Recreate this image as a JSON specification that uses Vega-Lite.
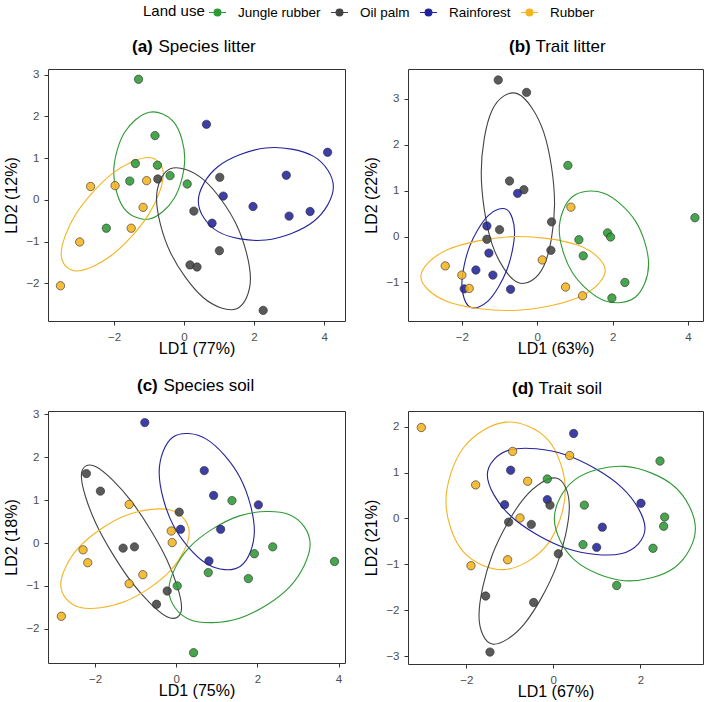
{
  "$schema": "https://vega.github.io/schema/vega-lite/v6.json",
  "padding": {"left": 3, "top": 3, "right": 3, "bottom": 3},
  "datasets": {
    "pts": [
      {"p":"a","use":"Jungle rubber","x":-1.30,"y":2.89},
      {"p":"a","use":"Jungle rubber","x":-0.83,"y":1.54},
      {"p":"a","use":"Jungle rubber","x":-1.39,"y":0.87},
      {"p":"a","use":"Jungle rubber","x":-0.76,"y":0.83},
      {"p":"a","use":"Jungle rubber","x":-1.55,"y":0.45},
      {"p":"a","use":"Jungle rubber","x":-0.40,"y":0.58},
      {"p":"a","use":"Jungle rubber","x":0.09,"y":0.38},
      {"p":"a","use":"Jungle rubber","x":-2.22,"y":-0.68},
      {"p":"a","use":"Oil palm","x":-0.75,"y":0.50},
      {"p":"a","use":"Oil palm","x":1.02,"y":0.54},
      {"p":"a","use":"Oil palm","x":0.28,"y":-0.27},
      {"p":"a","use":"Oil palm","x":1.01,"y":-1.22},
      {"p":"a","use":"Oil palm","x":0.17,"y":-1.56},
      {"p":"a","use":"Oil palm","x":0.37,"y":-1.61},
      {"p":"a","use":"Oil palm","x":2.26,"y":-2.65},
      {"p":"a","use":"Rainforest","x":0.64,"y":1.81},
      {"p":"a","use":"Rainforest","x":4.10,"y":1.14},
      {"p":"a","use":"Rainforest","x":2.92,"y":0.59},
      {"p":"a","use":"Rainforest","x":1.12,"y":0.09},
      {"p":"a","use":"Rainforest","x":1.97,"y":-0.16},
      {"p":"a","use":"Rainforest","x":3.00,"y":-0.39},
      {"p":"a","use":"Rainforest","x":3.60,"y":-0.28},
      {"p":"a","use":"Rainforest","x":0.80,"y":-0.56},
      {"p":"a","use":"Rubber","x":-2.67,"y":0.32},
      {"p":"a","use":"Rubber","x":-1.97,"y":0.34},
      {"p":"a","use":"Rubber","x":-1.07,"y":0.46},
      {"p":"a","use":"Rubber","x":-1.17,"y":-0.18},
      {"p":"a","use":"Rubber","x":-1.51,"y":-0.68},
      {"p":"a","use":"Rubber","x":-2.98,"y":-1.01},
      {"p":"a","use":"Rubber","x":-3.53,"y":-2.06},

      {"p":"b","use":"Oil palm","x":-1.035,"y":3.41},
      {"p":"b","use":"Oil palm","x":-0.283,"y":3.14},
      {"p":"b","use":"Oil palm","x":-0.735,"y":1.21},
      {"p":"b","use":"Oil palm","x":-0.354,"y":1.02},
      {"p":"b","use":"Oil palm","x":0.381,"y":0.32},
      {"p":"b","use":"Oil palm","x":-1.00,"y":0.15},
      {"p":"b","use":"Oil palm","x":-1.336,"y":-0.06},
      {"p":"b","use":"Oil palm","x":0.363,"y":-0.30},
      {"p":"b","use":"Rainforest","x":-0.522,"y":0.94},
      {"p":"b","use":"Rainforest","x":-1.336,"y":0.23},
      {"p":"b","use":"Rainforest","x":-1.283,"y":-0.36},
      {"p":"b","use":"Rainforest","x":-1.628,"y":-0.73},
      {"p":"b","use":"Rainforest","x":-1.177,"y":-0.84},
      {"p":"b","use":"Rainforest","x":-1.938,"y":-1.14},
      {"p":"b","use":"Rainforest","x":-0.708,"y":-1.15},
      {"p":"b","use":"Rubber","x":0.894,"y":0.64},
      {"p":"b","use":"Rubber","x":-2.442,"y":-0.64},
      {"p":"b","use":"Rubber","x":-2.0,"y":-0.84},
      {"p":"b","use":"Rubber","x":-1.805,"y":-1.13},
      {"p":"b","use":"Rubber","x":0.133,"y":-0.51},
      {"p":"b","use":"Rubber","x":0.752,"y":-1.10},
      {"p":"b","use":"Rubber","x":1.204,"y":-1.29},
      {"p":"b","use":"Jungle rubber","x":0.814,"y":1.55},
      {"p":"b","use":"Jungle rubber","x":4.186,"y":0.41},
      {"p":"b","use":"Jungle rubber","x":1.867,"y":0.08},
      {"p":"b","use":"Jungle rubber","x":1.947,"y":-0.01},
      {"p":"b","use":"Jungle rubber","x":1.106,"y":-0.07},
      {"p":"b","use":"Jungle rubber","x":1.221,"y":-0.42},
      {"p":"b","use":"Jungle rubber","x":2.327,"y":-1.00},
      {"p":"b","use":"Jungle rubber","x":1.982,"y":-1.34},

      {"p":"c","use":"Rainforest","x":-0.774,"y":2.81},
      {"p":"c","use":"Rainforest","x":0.691,"y":1.69},
      {"p":"c","use":"Rainforest","x":0.922,"y":1.11},
      {"p":"c","use":"Rainforest","x":2.025,"y":0.89},
      {"p":"c","use":"Rainforest","x":0.107,"y":0.32},
      {"p":"c","use":"Rainforest","x":1.095,"y":0.32},
      {"p":"c","use":"Rainforest","x":0.807,"y":-0.42},
      {"p":"c","use":"Jungle rubber","x":1.374,"y":0.99},
      {"p":"c","use":"Jungle rubber","x":2.379,"y":-0.09},
      {"p":"c","use":"Jungle rubber","x":1.926,"y":-0.25},
      {"p":"c","use":"Jungle rubber","x":3.901,"y":-0.43},
      {"p":"c","use":"Jungle rubber","x":0.790,"y":-0.69},
      {"p":"c","use":"Jungle rubber","x":1.778,"y":-0.83},
      {"p":"c","use":"Jungle rubber","x":0.025,"y":-1.00},
      {"p":"c","use":"Jungle rubber","x":0.428,"y":-2.56},
      {"p":"c","use":"Oil palm","x":-2.214,"y":1.62},
      {"p":"c","use":"Oil palm","x":-1.868,"y":1.21},
      {"p":"c","use":"Oil palm","x":0.074,"y":0.72},
      {"p":"c","use":"Oil palm","x":-1.309,"y":-0.12},
      {"p":"c","use":"Oil palm","x":-1.029,"y":-0.09},
      {"p":"c","use":"Oil palm","x":-0.222,"y":-1.12},
      {"p":"c","use":"Oil palm","x":-0.486,"y":-1.43},
      {"p":"c","use":"Rubber","x":-1.160,"y":0.90},
      {"p":"c","use":"Rubber","x":-0.123,"y":0.28},
      {"p":"c","use":"Rubber","x":-0.099,"y":0.01},
      {"p":"c","use":"Rubber","x":-2.296,"y":-0.16},
      {"p":"c","use":"Rubber","x":-2.181,"y":-0.46},
      {"p":"c","use":"Rubber","x":-0.823,"y":-0.74},
      {"p":"c","use":"Rubber","x":-1.160,"y":-0.95},
      {"p":"c","use":"Rubber","x":-2.831,"y":-1.71},

      {"p":"d","use":"Rubber","x":-3.034,"y":1.98},
      {"p":"d","use":"Rubber","x":-0.935,"y":1.46},
      {"p":"d","use":"Rubber","x":0.375,"y":1.37},
      {"p":"d","use":"Rubber","x":-1.785,"y":0.73},
      {"p":"d","use":"Rubber","x":-0.590,"y":0.81},
      {"p":"d","use":"Rubber","x":-0.766,"y":0.01},
      {"p":"d","use":"Rubber","x":-1.050,"y":-0.90},
      {"p":"d","use":"Rubber","x":-1.893,"y":-1.03},
      {"p":"d","use":"Rainforest","x":0.467,"y":1.85},
      {"p":"d","use":"Rainforest","x":-0.981,"y":1.05},
      {"p":"d","use":"Rainforest","x":-1.119,"y":0.30},
      {"p":"d","use":"Rainforest","x":-0.138,"y":0.41},
      {"p":"d","use":"Rainforest","x":2.015,"y":0.33},
      {"p":"d","use":"Rainforest","x":1.126,"y":-0.19},
      {"p":"d","use":"Rainforest","x":0.996,"y":-0.63},
      {"p":"d","use":"Jungle rubber","x":2.452,"y":1.25},
      {"p":"d","use":"Jungle rubber","x":-0.138,"y":0.86},
      {"p":"d","use":"Jungle rubber","x":0.713,"y":0.29},
      {"p":"d","use":"Jungle rubber","x":2.559,"y":0.03},
      {"p":"d","use":"Jungle rubber","x":2.536,"y":-0.17},
      {"p":"d","use":"Jungle rubber","x":0.682,"y":-0.57},
      {"p":"d","use":"Jungle rubber","x":2.291,"y":-0.65},
      {"p":"d","use":"Jungle rubber","x":1.456,"y":-1.46},
      {"p":"d","use":"Oil palm","x":-0.077,"y":0.29},
      {"p":"d","use":"Oil palm","x":-1.027,"y":-0.08},
      {"p":"d","use":"Oil palm","x":-0.506,"y":-0.13},
      {"p":"d","use":"Oil palm","x":0.115,"y":-0.77},
      {"p":"d","use":"Oil palm","x":-1.556,"y":-1.69},
      {"p":"d","use":"Oil palm","x":-0.452,"y":-1.83},
      {"p":"d","use":"Oil palm","x":-1.456,"y":-2.91}
    ],
    "ell": [
      {"p":"a","use":"Jungle rubber","i":0,"x":0.02,"y":0.99},
      {"p":"a","use":"Jungle rubber","i":1,"x":-0.28,"y":1.85},
      {"p":"a","use":"Jungle rubber","i":2,"x":-0.995,"y":2.10},
      {"p":"a","use":"Jungle rubber","i":3,"x":-1.71,"y":1.60},
      {"p":"a","use":"Jungle rubber","i":4,"x":-2.01,"y":0.65},
      {"p":"a","use":"Jungle rubber","i":5,"x":-1.71,"y":-0.21},
      {"p":"a","use":"Jungle rubber","i":6,"x":-0.995,"y":-0.46},
      {"p":"a","use":"Jungle rubber","i":7,"x":-0.28,"y":0.04},
      {"p":"a","use":"Rubber","i":0,"x":-0.59,"y":0.606},
      {"p":"a","use":"Rubber","i":1,"x":-1.02,"y":1.016},
      {"p":"a","use":"Rubber","i":2,"x":-2.05,"y":0.629},
      {"p":"a","use":"Rubber","i":3,"x":-3.08,"y":-0.328},
      {"p":"a","use":"Rubber","i":4,"x":-3.51,"y":-1.294},
      {"p":"a","use":"Rubber","i":5,"x":-3.08,"y":-1.704},
      {"p":"a","use":"Rubber","i":6,"x":-2.05,"y":-1.317},
      {"p":"a","use":"Rubber","i":7,"x":-1.02,"y":-0.36},
      {"p":"a","use":"Oil palm","i":0,"x":1.896,"y":-1.888},
      {"p":"a","use":"Oil palm","i":1,"x":1.503,"y":-0.608},
      {"p":"a","use":"Oil palm","i":2,"x":0.555,"y":0.483},
      {"p":"a","use":"Oil palm","i":3,"x":-0.393,"y":0.744},
      {"p":"a","use":"Oil palm","i":4,"x":-0.786,"y":0.024},
      {"p":"a","use":"Oil palm","i":5,"x":-0.393,"y":-1.256},
      {"p":"a","use":"Oil palm","i":6,"x":0.555,"y":-2.347},
      {"p":"a","use":"Oil palm","i":7,"x":1.503,"y":-2.608},
      {"p":"a","use":"Rainforest","i":0,"x":4.265,"y":0.312},
      {"p":"a","use":"Rainforest","i":1,"x":3.70,"y":1.042},
      {"p":"a","use":"Rainforest","i":2,"x":2.336,"y":1.243},
      {"p":"a","use":"Rainforest","i":3,"x":0.972,"y":0.798},
      {"p":"a","use":"Rainforest","i":4,"x":0.407,"y":-0.032},
      {"p":"a","use":"Rainforest","i":5,"x":0.972,"y":-0.762},
      {"p":"a","use":"Rainforest","i":6,"x":2.336,"y":-0.963},
      {"p":"a","use":"Rainforest","i":7,"x":3.70,"y":-0.518},

      {"p":"b","use":"Oil palm","i":0,"x":0.46,"y":0.712},
      {"p":"b","use":"Oil palm","i":1,"x":0.175,"y":2.265},
      {"p":"b","use":"Oil palm","i":2,"x":-0.513,"y":3.108},
      {"p":"b","use":"Oil palm","i":3,"x":-1.201,"y":2.747},
      {"p":"b","use":"Oil palm","i":4,"x":-1.486,"y":1.394},
      {"p":"b","use":"Oil palm","i":5,"x":-1.201,"y":-0.159},
      {"p":"b","use":"Oil palm","i":6,"x":-0.513,"y":-1.002},
      {"p":"b","use":"Oil palm","i":7,"x":0.175,"y":-0.641},
      {"p":"b","use":"Rainforest","i":0,"x":-0.602,"y":0.094},
      {"p":"b","use":"Rainforest","i":1,"x":-0.807,"y":0.586},
      {"p":"b","use":"Rainforest","i":2,"x":-1.301,"y":0.458},
      {"p":"b","use":"Rainforest","i":3,"x":-1.795,"y":-0.214},
      {"p":"b","use":"Rainforest","i":4,"x":-2.0,"y":-1.038},
      {"p":"b","use":"Rainforest","i":5,"x":-1.795,"y":-1.53},
      {"p":"b","use":"Rainforest","i":6,"x":-1.301,"y":-1.402},
      {"p":"b","use":"Rainforest","i":7,"x":-0.807,"y":-0.73},
      {"p":"b","use":"Rubber","i":0,"x":1.805,"y":-0.741},
      {"p":"b","use":"Rubber","i":1,"x":1.088,"y":-0.192},
      {"p":"b","use":"Rubber","i":2,"x":-0.642,"y":-0.002},
      {"p":"b","use":"Rubber","i":3,"x":-2.372,"y":-0.284},
      {"p":"b","use":"Rubber","i":4,"x":-3.089,"y":-0.871},
      {"p":"b","use":"Rubber","i":5,"x":-2.372,"y":-1.42},
      {"p":"b","use":"Rubber","i":6,"x":-0.642,"y":-1.61},
      {"p":"b","use":"Rubber","i":7,"x":1.088,"y":-1.328},
      {"p":"b","use":"Jungle rubber","i":0,"x":2.956,"y":-0.601},
      {"p":"b","use":"Jungle rubber","i":1,"x":2.608,"y":0.335},
      {"p":"b","use":"Jungle rubber","i":2,"x":1.770,"y":0.943},
      {"p":"b","use":"Jungle rubber","i":3,"x":0.932,"y":0.867},
      {"p":"b","use":"Jungle rubber","i":4,"x":0.584,"y":0.151},
      {"p":"b","use":"Jungle rubber","i":5,"x":0.932,"y":-0.785},
      {"p":"b","use":"Jungle rubber","i":6,"x":1.770,"y":-1.393},
      {"p":"b","use":"Jungle rubber","i":7,"x":2.608,"y":-1.317},

      {"p":"c","use":"Oil palm","i":0,"x":0.132,"y":-1.503},
      {"p":"c","use":"Oil palm","i":1,"x":-0.23,"y":-0.389},
      {"p":"c","use":"Oil palm","i":2,"x":-1.103,"y":0.971},
      {"p":"c","use":"Oil palm","i":3,"x":-1.976,"y":1.781},
      {"p":"c","use":"Oil palm","i":4,"x":-2.338,"y":1.565},
      {"p":"c","use":"Oil palm","i":5,"x":-1.976,"y":0.451},
      {"p":"c","use":"Oil palm","i":6,"x":-1.103,"y":-0.909},
      {"p":"c","use":"Oil palm","i":7,"x":-0.23,"y":-1.719},
      {"p":"c","use":"Rubber","i":0,"x":0.321,"y":0.238},
      {"p":"c","use":"Rubber","i":1,"x":-0.143,"y":0.768},
      {"p":"c","use":"Rubber","i":2,"x":-1.263,"y":0.634},
      {"p":"c","use":"Rubber","i":3,"x":-2.383,"y":-0.086},
      {"p":"c","use":"Rubber","i":4,"x":-2.847,"y":-0.97},
      {"p":"c","use":"Rubber","i":5,"x":-2.383,"y":-1.5},
      {"p":"c","use":"Rubber","i":6,"x":-1.263,"y":-1.366},
      {"p":"c","use":"Rubber","i":7,"x":-0.143,"y":-0.646},
      {"p":"c","use":"Rainforest","i":0,"x":1.926,"y":0.285},
      {"p":"c","use":"Rainforest","i":1,"x":1.582,"y":1.512},
      {"p":"c","use":"Rainforest","i":2,"x":0.753,"y":2.418},
      {"p":"c","use":"Rainforest","i":3,"x":-0.076,"y":2.474},
      {"p":"c","use":"Rainforest","i":4,"x":-0.42,"y":1.647},
      {"p":"c","use":"Rainforest","i":5,"x":-0.076,"y":0.42},
      {"p":"c","use":"Rainforest","i":6,"x":0.753,"y":-0.486},
      {"p":"c","use":"Rainforest","i":7,"x":1.582,"y":-0.542},
      {"p":"c","use":"Jungle rubber","i":0,"x":3.301,"y":-0.026},
      {"p":"c","use":"Jungle rubber","i":1,"x":2.791,"y":0.661},
      {"p":"c","use":"Jungle rubber","i":2,"x":1.560,"y":0.633},
      {"p":"c","use":"Jungle rubber","i":3,"x":0.329,"y":-0.095},
      {"p":"c","use":"Jungle rubber","i":4,"x":-0.181,"y":-1.096},
      {"p":"c","use":"Jungle rubber","i":5,"x":0.329,"y":-1.783},
      {"p":"c","use":"Jungle rubber","i":6,"x":1.560,"y":-1.755},
      {"p":"c","use":"Jungle rubber","i":7,"x":2.791,"y":-1.027},

      {"p":"d","use":"Rubber","i":0,"x":0.276,"y":0.618},
      {"p":"d","use":"Rubber","i":1,"x":-0.126,"y":1.715},
      {"p":"d","use":"Rubber","i":2,"x":-1.096,"y":2.097},
      {"p":"d","use":"Rubber","i":3,"x":-2.066,"y":1.539},
      {"p":"d","use":"Rubber","i":4,"x":-2.468,"y":0.368},
      {"p":"d","use":"Rubber","i":5,"x":-2.066,"y":-0.729},
      {"p":"d","use":"Rubber","i":6,"x":-1.096,"y":-1.111},
      {"p":"d","use":"Rubber","i":7,"x":-0.126,"y":-0.553},
      {"p":"d","use":"Rainforest","i":0,"x":2.107,"y":-0.215},
      {"p":"d","use":"Rainforest","i":1,"x":1.576,"y":0.673},
      {"p":"d","use":"Rainforest","i":2,"x":0.295,"y":1.381},
      {"p":"d","use":"Rainforest","i":3,"x":-0.986,"y":1.495},
      {"p":"d","use":"Rainforest","i":4,"x":-1.517,"y":0.947},
      {"p":"d","use":"Rainforest","i":5,"x":-0.986,"y":0.059},
      {"p":"d","use":"Rainforest","i":6,"x":0.295,"y":-0.649},
      {"p":"d","use":"Rainforest","i":7,"x":1.576,"y":-0.763},
      {"p":"d","use":"Jungle rubber","i":0,"x":3.265,"y":-0.221},
      {"p":"d","use":"Jungle rubber","i":1,"x":2.79,"y":0.691},
      {"p":"d","use":"Jungle rubber","i":2,"x":1.644,"y":1.133},
      {"p":"d","use":"Jungle rubber","i":3,"x":0.498,"y":0.845},
      {"p":"d","use":"Jungle rubber","i":4,"x":0.023,"y":-0.003},
      {"p":"d","use":"Jungle rubber","i":5,"x":0.498,"y":-0.915},
      {"p":"d","use":"Jungle rubber","i":6,"x":1.644,"y":-1.357},
      {"p":"d","use":"Jungle rubber","i":7,"x":2.79,"y":-1.069},
      {"p":"d","use":"Oil palm","i":0,"x":0.368,"y":0.256},
      {"p":"d","use":"Oil palm","i":1,"x":0.064,"y":0.879},
      {"p":"d","use":"Oil palm","i":2,"x":-0.670,"y":0.444},
      {"p":"d","use":"Oil palm","i":3,"x":-1.404,"y":-0.795},
      {"p":"d","use":"Oil palm","i":4,"x":-1.708,"y":-2.112},
      {"p":"d","use":"Oil palm","i":5,"x":-1.404,"y":-2.735},
      {"p":"d","use":"Oil palm","i":6,"x":-0.670,"y":-2.3},
      {"p":"d","use":"Oil palm","i":7,"x":0.064,"y":-1.061}
    ]
  },
  "columns": 2,
  "spacing": {"column": 17, "row": 19},
  "concat": [
    {
      "width": 297, "height": 252,
      "title": {"text": "(a)", "subtitle": "\u200b\u00a0\u00a0\u00a0\u00a0\u00a0\u2006Species litter", "dx": 84},
      "layer": [
        {"data": {"name": "ell"}, "transform": [{"filter": "datum.p == 'a'"}],
         "mark": {"type": "line", "interpolate": "cardinal-closed", "strokeWidth": 1.1},
         "encoding": {
           "x": {"field": "x", "type": "quantitative", "scale": {"domain": [-3.886, 4.597], "nice": false, "zero": false}, "axis": {"values": [-2, 0, 2, 4], "title": "LD1 (77%)"}},
           "y": {"field": "y", "type": "quantitative", "scale": {"domain": [-2.904, 3.136], "nice": false, "zero": false}, "axis": {"values": [-2, -1, 0, 1, 2, 3], "title": "LD2 (12%)"}},
           "color": {"field": "use", "type": "nominal", "title": "Land use", "scale": {"domain": ["Jungle rubber", "Oil palm", "Rainforest", "Rubber"], "range": ["#2e9a34", "#434343", "#23239b", "#f4b41f"]}},
           "order": {"field": "i", "type": "quantitative"}
         }},
        {"data": {"name": "pts"}, "transform": [{"filter": "datum.p == 'a'"}],
         "mark": {"type": "point", "filled": true, "size": 70, "stroke": "#2a2a2a", "strokeWidth": 0.6, "fillOpacity": 0.88, "opacity": 1},
         "encoding": {
           "x": {"field": "x", "type": "quantitative"},
           "y": {"field": "y", "type": "quantitative"},
           "color": {"field": "use", "type": "nominal", "title": "Land use", "legend": {"symbolType": "M-1,0L1,0M0.4,0A0.4,0.4,0,1,1,-0.4,0A0.4,0.4,0,1,1,0.4,0Z"}}
         }}
      ]
    },
    {
      "width": 295, "height": 252,
      "title": {"text": "(b)", "subtitle": "\u200b\u00a0\u00a0\u00a0\u00a0\u00a0\u2006Trait litter", "dx": 101},
      "layer": [
        {"data": {"name": "ell"}, "transform": [{"filter": "datum.p == 'b'"}],
         "mark": {"type": "line", "interpolate": "cardinal-closed", "strokeWidth": 1.1},
         "encoding": {
           "x": {"field": "x", "type": "quantitative", "scale": {"domain": [-3.43, 4.40], "nice": false, "zero": false}, "axis": {"values": [-2, 0, 2, 4], "title": "LD1 (63%)"}},
           "y": {"field": "y", "type": "quantitative", "scale": {"domain": [-1.84, 3.65], "nice": false, "zero": false}, "axis": {"values": [-1, 0, 1, 2, 3], "title": "LD2 (22%)"}},
           "color": {"field": "use", "type": "nominal", "title": "Land use"},
           "order": {"field": "i", "type": "quantitative"}
         }},
        {"data": {"name": "pts"}, "transform": [{"filter": "datum.p == 'b'"}],
         "mark": {"type": "point", "filled": true, "size": 70, "stroke": "#2a2a2a", "strokeWidth": 0.6, "fillOpacity": 0.88, "opacity": 1},
         "encoding": {
           "x": {"field": "x", "type": "quantitative"},
           "y": {"field": "y", "type": "quantitative"},
           "color": {"field": "use", "type": "nominal", "title": "Land use"}
         }}
      ]
    },
    {
      "width": 297, "height": 252,
      "title": {"text": "(c)", "subtitle": "\u200b\u00a0\u00a0\u00a0\u00a0\u00a0\u2006Species soil", "dx": 89},
      "layer": [
        {"data": {"name": "ell"}, "transform": [{"filter": "datum.p == 'c'"}],
         "mark": {"type": "line", "interpolate": "cardinal-closed", "strokeWidth": 1.1},
         "encoding": {
           "x": {"field": "x", "type": "quantitative", "scale": {"domain": [-3.16, 4.16], "nice": false, "zero": false}, "axis": {"values": [-2, 0, 2, 4], "title": "LD1 (75%)"}},
           "y": {"field": "y", "type": "quantitative", "scale": {"domain": [-2.80, 3.08], "nice": false, "zero": false}, "axis": {"values": [-2, -1, 0, 1, 2, 3], "title": "LD2 (18%)"}},
           "color": {"field": "use", "type": "nominal", "title": "Land use"},
           "order": {"field": "i", "type": "quantitative"}
         }},
        {"data": {"name": "pts"}, "transform": [{"filter": "datum.p == 'c'"}],
         "mark": {"type": "point", "filled": true, "size": 70, "stroke": "#2a2a2a", "strokeWidth": 0.6, "fillOpacity": 0.88, "opacity": 1},
         "encoding": {
           "x": {"field": "x", "type": "quantitative"},
           "y": {"field": "y", "type": "quantitative"},
           "color": {"field": "use", "type": "nominal", "title": "Land use"}
         }}
      ]
    },
    {
      "width": 295, "height": 253,
      "title": {"text": "(d)", "subtitle": "\u200b\u00a0\u00a0\u00a0\u00a0\u00a0\u2006Trait soil", "dx": 104},
      "layer": [
        {"data": {"name": "ell"}, "transform": [{"filter": "datum.p == 'd'"}],
         "mark": {"type": "line", "interpolate": "cardinal-closed", "strokeWidth": 1.1},
         "encoding": {
           "x": {"field": "x", "type": "quantitative", "scale": {"domain": [-3.34, 3.44], "nice": false, "zero": false}, "axis": {"values": [-2, 0, 2], "title": "LD1 (67%)"}},
           "y": {"field": "y", "type": "quantitative", "scale": {"domain": [-3.17, 2.34], "nice": false, "zero": false}, "axis": {"values": [-3, -2, -1, 0, 1, 2], "title": "LD2 (21%)"}},
           "color": {"field": "use", "type": "nominal", "title": "Land use"},
           "order": {"field": "i", "type": "quantitative"}
         }},
        {"data": {"name": "pts"}, "transform": [{"filter": "datum.p == 'd'"}],
         "mark": {"type": "point", "filled": true, "size": 70, "stroke": "#2a2a2a", "strokeWidth": 0.6, "fillOpacity": 0.88, "opacity": 1},
         "encoding": {
           "x": {"field": "x", "type": "quantitative"},
           "y": {"field": "y", "type": "quantitative"},
           "color": {"field": "use", "type": "nominal", "title": "Land use"}
         }}
      ]
    }
  ],
  "resolve": {"scale": {"x": "independent", "y": "independent", "color": "shared"}, "legend": {"color": "shared"}},
  "config": {
    "font": "Liberation Sans",
    "background": "white",
    "view": {"stroke": "#333333", "strokeWidth": 1},
    "axis": {"grid": false, "domain": false, "tickColor": "#333333", "tickSize": 4, "tickWidth": 1,
             "labelColor": "#4d4d4d", "labelFontSize": 11.5, "labelPadding": 6,
             "titleFontSize": 16, "titleFontWeight": "normal", "titleColor": "black", "titlePadding": 3},
    "axisX": {"titlePadding": -2},
    "axisY": {"labelPadding": 5, "titlePadding": 6},
    "title": {"anchor": "start", "frame": "group", "fontSize": 17, "fontWeight": "bold", "color": "black",
              "subtitleFontSize": 17, "subtitleFontWeight": "normal", "subtitleColor": "black",
              "subtitlePadding": -17, "offset": 13},
    "legend": {"orient": "none", "legendX": 95, "legendY": -66, "direction": "horizontal",
               "titleOrient": "left", "titleFontSize": 15, "titleFontWeight": "normal", "titleColor": "black",
               "labelFontSize": 13.5, "labelColor": "black", "symbolSize": 289, "symbolStrokeWidth": 1.2,
               "columnPadding": 7, "labelOffset": 11, "titlePadding": 3, "symbolOffset": 0}
  }
}
